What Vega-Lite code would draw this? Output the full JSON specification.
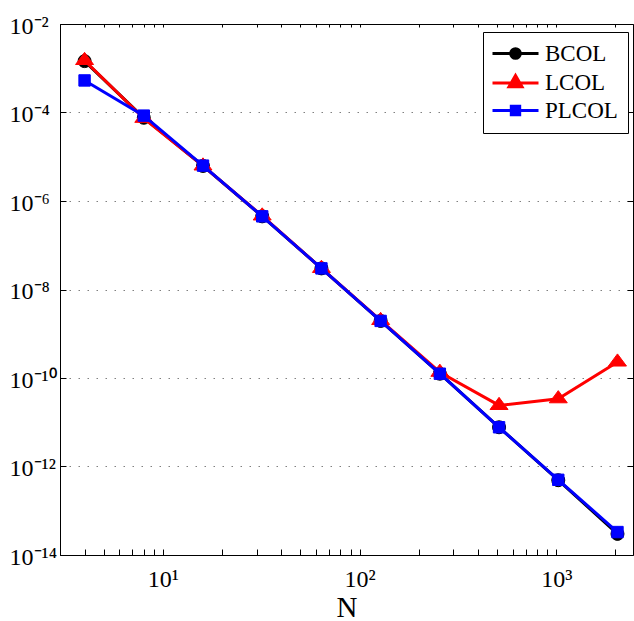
{
  "$schema": "https://vega.github.io/schema/vega-lite/v6.json",
  "width": 573,
  "height": 531,
  "autosize": {"type": "none"},
  "padding": {"left": 60, "top": 24, "right": 1, "bottom": 66},
  "config": {
    "view": {"stroke": null},
    "font": "Liberation Serif",
    "axis": {"domainColor": "black", "domainWidth": 1, "tickColor": "black", "tickWidth": 1, "labelColor": "black", "titleColor": "black", "labelFont": "Liberation Serif", "titleFont": "Liberation Serif"}
  },
  "data": {
    "values": [
      {"method": "BCOL", "N": 4, "err": 1.45e-3},
      {"method": "BCOL", "N": 8, "err": 7.6e-5},
      {"method": "BCOL", "N": 16, "err": 6.2e-6},
      {"method": "BCOL", "N": 32, "err": 4.5e-7},
      {"method": "BCOL", "N": 64, "err": 3.0e-8},
      {"method": "BCOL", "N": 128, "err": 1.95e-9},
      {"method": "BCOL", "N": 256, "err": 1.25e-10},
      {"method": "BCOL", "N": 512, "err": 7.7e-12},
      {"method": "BCOL", "N": 1024, "err": 4.9e-13},
      {"method": "BCOL", "N": 2048, "err": 3.0e-14},
      {"method": "LCOL", "N": 4, "err": 1.5e-3},
      {"method": "LCOL", "N": 8, "err": 7.4e-5},
      {"method": "LCOL", "N": 16, "err": 6.2e-6},
      {"method": "LCOL", "N": 32, "err": 4.6e-7},
      {"method": "LCOL", "N": 64, "err": 3.0e-8},
      {"method": "LCOL", "N": 128, "err": 2.0e-9},
      {"method": "LCOL", "N": 256, "err": 1.35e-10},
      {"method": "LCOL", "N": 512, "err": 2.4e-11},
      {"method": "LCOL", "N": 1024, "err": 3.4e-11},
      {"method": "LCOL", "N": 2048, "err": 2.3e-10},
      {"method": "PLCOL", "N": 4, "err": 5.3e-4},
      {"method": "PLCOL", "N": 8, "err": 8.5e-5},
      {"method": "PLCOL", "N": 16, "err": 6.3e-6},
      {"method": "PLCOL", "N": 32, "err": 4.5e-7},
      {"method": "PLCOL", "N": 64, "err": 3.0e-8},
      {"method": "PLCOL", "N": 128, "err": 1.95e-9},
      {"method": "PLCOL", "N": 256, "err": 1.25e-10},
      {"method": "PLCOL", "N": 512, "err": 7.7e-12},
      {"method": "PLCOL", "N": 1024, "err": 5.0e-13},
      {"method": "PLCOL", "N": 2048, "err": 3.3e-14}
    ]
  },
  "layer": [
    {
      "encoding": {
        "x": {
          "field": "N", "type": "quantitative",
          "scale": {"type": "log", "domain": [3, 2456], "nice": false},
          "axis": {
            "orient": "bottom",
            "values": [3,4,5,6,7,8,9,10,20,30,40,50,60,70,80,90,100,200,300,400,500,600,700,800,900,1000,2000],
            "labelExpr": "datum.value == 10 ? '10¹' : datum.value == 100 ? '10²' : datum.value == 1000 ? '10³' : ''",
            "labelFontSize": 24, "labelBaseline": "alphabetic", "labelPadding": 37, "tickSize": -6,
            "labelOverlap": false, "labelFlush": false, "grid": false,
            "title": "N", "titleFontSize": 29, "titleFontWeight": "normal", "titleY": 61, "titleBaseline": "alphabetic",
            "encode": {"ticks": {"update": {"y2": {"signal": "(datum.value == 10 || datum.value == 100 || datum.value == 1000) ? -6 : -3"}}}}
          }
        },
        "y": {
          "field": "err", "type": "quantitative",
          "scale": {"type": "log", "domain": [1e-14, 1e-2], "nice": false},
          "axis": {
            "orient": "left",
            "values": [1e-14, 1e-12, 1e-10, 1e-8, 1e-6, 1e-4, 1e-2],
            "labelExpr": "datum.value < 1e-13 ? '10⁻¹⁴' : datum.value < 1e-11 ? '10⁻¹²' : datum.value < 1e-9 ? '10⁻¹⁰' : datum.value < 1e-7 ? '10⁻⁸' : datum.value < 1e-5 ? '10⁻⁶' : datum.value < 1e-3 ? '10⁻⁴' : '10⁻²'",
            "labelFontSize": 24, "labelAlign": "left", "labelBaseline": "alphabetic", "labelOffset": 9, "labelPadding": 57, "tickSize": -6,
            "labelOverlap": false, "labelFlush": false,
            "grid": true, "gridColor": "#808080", "gridDash": [1.5, 7.5], "gridWidth": 1,
            "title": null
          }
        },
        "color": {
          "field": "method", "type": "nominal",
          "scale": {"domain": ["BCOL", "LCOL", "PLCOL"], "range": ["black", "red", "blue"]},
          "legend": {
            "title": null, "orient": "none", "legendX": 423, "legendY": 8,
            "strokeColor": "black", "fillColor": "white", "padding": 10,
            "labelFont": "Liberation Serif", "labelFontSize": 23, "labelColor": "black", "labelOffset": 29,
            "symbolSize": 400, "rowPadding": 3.5, "labelLimit": 300,
            "encode": {
              "symbols": {
                "update": {
                  "shape": {"signal": "datum.value === 'BCOL' ? 'M-1.2,0H3.4M1.58,0A0.48,0.48,0,1,1,0.62,0A0.48,0.48,0,1,1,1.58,0Z' : datum.value === 'LCOL' ? 'M-1.2,0H3.4M1.1,-0.75L1.75,0.38L0.45,0.38Z' : 'M-1.2,0H3.4M0.68,-0.42H1.52V0.42H0.68Z'"},
                  "fill": {"signal": "datum.value === 'BCOL' ? 'black' : datum.value === 'LCOL' ? 'red' : 'blue'"},
                  "stroke": {"signal": "datum.value === 'BCOL' ? 'black' : datum.value === 'LCOL' ? 'red' : 'blue'"},
                  "strokeWidth": {"value": 3},
                  "size": {"value": 400},
                  "opacity": {"value": 1},
                  "fillOpacity": {"value": 1},
                  "strokeOpacity": {"value": 1}
                }
              }
            }
          }
        }
      },
      "layer": [
        {"transform": [{"filter": "datum.method === 'BCOL'"}], "mark": {"type": "line", "strokeWidth": 3}},
        {"transform": [{"filter": "datum.method === 'BCOL'"}], "mark": {"type": "point", "shape": "circle", "filled": true, "size": 169, "stroke": "black", "strokeWidth": 1, "opacity": 1}},
        {"transform": [{"filter": "datum.method === 'LCOL'"}], "mark": {"type": "line", "strokeWidth": 3}},
        {"transform": [{"filter": "datum.method === 'LCOL'"}], "mark": {"type": "point", "shape": "M0,-0.9L1,0.45L-1,0.45Z", "filled": true, "size": 324, "stroke": "red", "strokeWidth": 1, "opacity": 1}},
        {"transform": [{"filter": "datum.method === 'PLCOL'"}], "mark": {"type": "line", "strokeWidth": 3}},
        {"transform": [{"filter": "datum.method === 'PLCOL'"}], "mark": {"type": "point", "shape": "square", "filled": true, "size": 130, "stroke": "blue", "strokeWidth": 1, "opacity": 1}}
      ]
    },
    {
      "mark": {"type": "point", "opacity": 0},
      "encoding": {
        "x": {
          "field": "N", "type": "quantitative",
          "scale": {"type": "log", "domain": [3, 2456], "nice": false},
          "axis": {
            "orient": "top",
            "values": [3,4,5,6,7,8,9,10,20,30,40,50,60,70,80,90,100,200,300,400,500,600,700,800,900,1000,2000],
            "labels": false, "grid": false, "title": null, "tickSize": -3,
            "encode": {"ticks": {"update": {"y2": {"signal": "(datum.value == 10 || datum.value == 100 || datum.value == 1000) ? 5 : 3"}}}}
          }
        },
        "y": {
          "field": "err", "type": "quantitative",
          "scale": {"type": "log", "domain": [1e-14, 1e-2], "nice": false},
          "axis": {
            "orient": "right",
            "values": [1e-14, 1e-12, 1e-10, 1e-8, 1e-6, 1e-4, 1e-2],
            "labels": false, "grid": false, "title": null, "tickSize": -6
          }
        }
      }
    }
  ],
  "resolve": {"axis": {"x": "independent", "y": "independent"}}
}
